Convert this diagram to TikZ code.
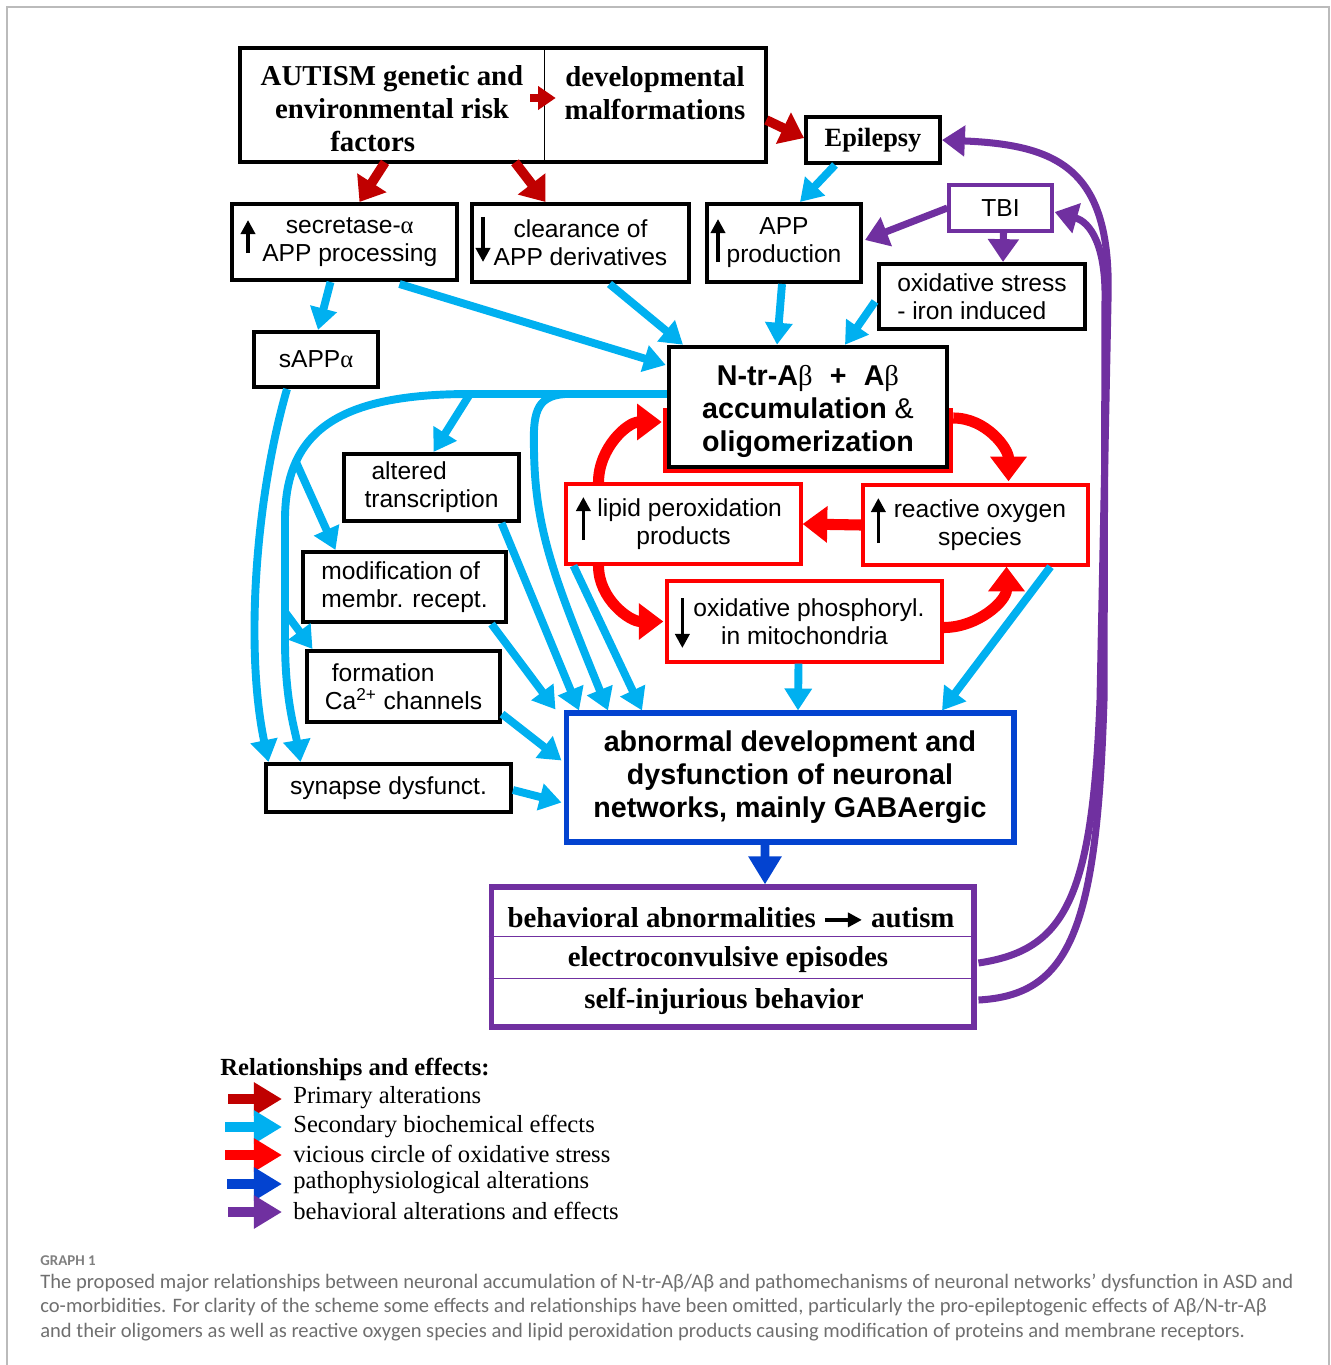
\documentclass[tikz,border=0pt]{standalone}
\usepackage{fontspec}
\setmainfont{Liberation Serif}
\setsansfont{Liberation Sans}
\newfontfamily\capfont{Carlito}
\usetikzlibrary{arrows.meta}

\definecolor{darkred}{HTML}{C00000}
\definecolor{skyarr}{HTML}{00B0F0}
\definecolor{vicred}{HTML}{FF0000}
\definecolor{patblue}{HTML}{0343D0}
\definecolor{behpurp}{HTML}{7030A0}
\definecolor{framegray}{HTML}{BBBBBB}
\definecolor{capgray}{HTML}{6F6F6F}

\newcommand\serifbold{\rmfamily\bfseries\fontsize{16.4}{18.8}\selectfont}
\newcommand\sansbold{\sffamily\bfseries\fontsize{16.3}{18.8}\selectfont}
\newcommand\boxfont{\sffamily\fontsize{14}{16}\selectfont}
\newcommand\ind[1]{\hspace*{#1pt}}

\tikzset{
  box/.style={draw=black, line width=2.3pt, fill=white, font=\boxfont, align=center, inner sep=1pt},
  redbox/.style={box, draw=vicred, line width=1.9pt},
  cell/.style={font=\serifbold, align=center, minimum width=6.08cm, minimum height=2.28cm, inner sep=0pt},
  updn/.style={black, line width=2.1pt, -{Triangle[width=8pt,length=8pt]}},
  primarr/.style={darkred, line width=5.5pt, -{Triangle[width=19pt,length=13pt]}},
  secarr/.style={skyarr, line width=4.5pt, -{Triangle[width=15pt,length=12.5pt]}},
  vicarr/.style={vicred, line width=6.3pt, -{Triangle[width=20pt,length=14pt]}},
  patharr/.style={patblue, line width=5pt, -{Triangle[width=18pt,length=16pt]}},
  beharr/.style={behpurp, line width=4pt, -{Triangle[width=17pt,length=13pt]}},
  legarr/.style={line width=5.7pt, -{Triangle[width=18pt,length=16pt]}},
  legtxt/.style={anchor=west, inner sep=0pt, font=\rmfamily\fontsize{14}{16}\selectfont}
}

\begin{document}
\begin{tikzpicture}[x=0.02cm, y=-0.02cm]
\useasboundingbox (0,0) rectangle (1331,1365);
\draw[framegray, line width=0.8pt] (7,1365) -- (7,7) -- (1329,7) -- (1329,1365);

% top row
\node[cell] (autism) at (392,105) {\rule{0pt}{16pt}AUTISM genetic and\\environmental risk\\factors\hspace*{22pt}};
\node[cell, minimum width=4.44cm] (devel) at (655,105) {\rule{0pt}{16pt}developmental\\malformations\\\mbox{}};
\draw[line width=2.3pt] (autism.north west) rectangle (devel.south east);
\draw[line width=0.8pt] (autism.north east) -- (autism.south east);
\node[box, font=\rmfamily\bfseries\fontsize{15}{17}\selectfont, minimum width=2.68cm, minimum height=0.92cm] (epi) at (873,140) {Epilepsy};

\node[box, minimum width=4.5cm, minimum height=1.52cm] (secr) at (344.5,242) {\ind{6}secretase-{\rmfamily α}\\\ind{6}APP processing};
\node[box, minimum width=4.34cm, minimum height=1.56cm] (clear) at (580.5,243) {clearance of\\APP derivatives};
\node[box, minimum width=3.08cm, minimum height=1.56cm] (appprod) at (784,243) {APP\\production};
\node[box, draw=behpurp, line width=1.9pt, minimum width=2.06cm, minimum height=0.92cm] (tbi) at (1000.5,208) {TBI};
\node[box, align=left, minimum width=4.12cm, minimum height=1.3cm] (oxiron) at (982,296.5) {oxidative stress\\- iron induced};
\node[box, minimum width=2.48cm, minimum height=1.1cm] (sappa) at (316,359.5) {sAPP{\rmfamily α}};

% central box with the red frame behind it
\draw[vicred, line width=1.9pt] (665,410) rectangle (951,471);
\node[box, line width=2.6pt, font=\sansbold, minimum width=5.56cm, minimum height=2.4cm] (ntr) at (808,407)
  {\rule{0pt}{17pt}N-tr-A{\rmfamily\mdseries β}\hspace{0.6em}+\hspace{0.6em}A{\rmfamily\mdseries β}\\accumulation {\mdseries\&}\\oligomerization};

\node[box, align=left, minimum width=3.5cm, minimum height=1.34cm] (altered) at (431.5,487.5) {\ind{4}altered\\transcription};
\node[redbox, minimum width=4.7cm, minimum height=1.6cm] (lipid) at (683.5,524) {\ind{7}lipid peroxidation\\products};
\node[redbox, minimum width=4.5cm, minimum height=1.6cm] (ros) at (975.5,525) {\ind{5}reactive oxygen\\\ind{5}species};
\node[box, align=left, minimum width=4.06cm, minimum height=1.4cm] (modif) at (404.5,587) {modification of\\membr. recept.};
\node[redbox, minimum width=5.5cm, minimum height=1.62cm] (oxph) at (804.5,621.5) {\ind{5}oxidative phosphoryl.\\in mitochondria};
\node[box, align=left, minimum width=3.86cm, minimum height=1.42cm] (formca) at (403.5,686.5) {\ind{4}formation\\Ca\textsuperscript{2+} channels};
\node[box, minimum width=4.9cm, minimum height=0.96cm] (synapse) at (388.5,788) {synapse dysfunct.};
\node[box, draw=patblue, line width=2.9pt, font=\sansbold, minimum width=8.96cm, minimum height=2.58cm] (abnormal) at (790,777.5)
  {abnormal development and\\dysfunction of neuronal\\networks, mainly GABAergic};

% behavioral box
\node[draw=behpurp, line width=2.9pt, minimum width=9.66cm, minimum height=2.8cm] (behav) at (732.5,957) {};
\draw[behpurp, line width=0.8pt] ([shift={(0,52)}]behav.north west) -- ([shift={(0,52)}]behav.north east);
\draw[behpurp, line width=0.8pt] ([shift={(0,94)}]behav.north west) -- ([shift={(0,94)}]behav.north east);
\node[font=\serifbold, inner sep=0pt] (rowaut) at (731,918) {behavioral abnormalities~\tikz[baseline=-0.6ex]\draw[line width=2.4pt,-{Triangle[width=8pt,length=8pt]}] (0pt,0pt) -- (21pt,0pt);~autism};
\node[font=\serifbold, inner sep=0pt] (rowconv) at (728,960) {electroconvulsive episodes};
\node[font=\serifbold, inner sep=0pt] (rowself) at (724,1001) {self-injurious behavior};

% up and down marks
\draw[updn] ([shift={(18,11)}]secr.west) -- ([shift={(18,-22)}]secr.west);
\draw[updn] ([shift={(13,-26)}]clear.west) -- ([shift={(13,19)}]clear.west);
\draw[updn] ([shift={(13,19)}]appprod.west) -- ([shift={(13,-24)}]appprod.west);
\draw[updn] ([shift={(19,16)}]lipid.west) -- ([shift={(19,-27)}]lipid.west);
\draw[updn] ([shift={(17,18)}]ros.west) -- ([shift={(17,-27)}]ros.west);
\draw[updn] ([shift={(17,-23.5)}]oxph.west) -- ([shift={(17,26.5)}]oxph.west);

% primary alterations
\draw[primarr, line width=4.5pt, -{Triangle[width=13pt,length=10pt]}] ([shift={(-14,-7)}]autism.east) -- ([shift={(12,-7)}]devel.west);
\draw[primarr] ([shift={(0,15)}]devel.east) -- ([shift={(0,-2)}]epi.west);
\draw[primarr] ([shift={(-7,0)}]autism.south) -- ([shift={(15,0)}]secr.north);
\draw[primarr] ([shift={(123,0)}]autism.south) -- ([shift={(-35,0)}]clear.north);

% secondary effects
\draw[secarr] ([shift={(-38,0)}]epi.south) -- ([shift={(16,0)}]appprod.north);
\draw[secarr] ([shift={(-14,0)}]secr.south) -- ([shift={(2,0)}]sappa.north);
\draw[secarr] ([shift={(55,2)}]secr.south) -- ([shift={(-1,-42)}]ntr.west);
\draw[secarr] ([shift={(29,0)}]clear.south) -- ([shift={(-125,0)}]ntr.north);
\draw[secarr] ([shift={(-2,0)}]appprod.south) -- ([shift={(-31,0)}]ntr.north);
\draw[secarr] ([shift={(-2,5)}]oxiron.west) -- ([shift={(37,0)}]ntr.north);
\draw[secarr] ([shift={(-29,0)}]sappa.south) .. controls (255,500) and (245,650) .. ([shift={(-120,0)}]synapse.north);

\coordinate (brA) at (470,394);
\coordinate (brB) at (296,462);
\coordinate (brC) at (285,612);
\coordinate (brD) at (565,394);
\draw[secarr] ([shift={(0,-13)}]ntr.west) -- (brA) .. controls (340,394) and (285,430) .. (285,520) -- (285,640)
  .. controls (285,700) and (295,730) .. ([shift={(-88,0)}]synapse.north);
\draw[secarr] (brA) -- ([shift={(2,0)}]altered.north);
\draw[secarr] (brB) -- ([shift={(-69,0)}]modif.north);
\draw[secarr] (brC) -- ([shift={(-91,0)}]formca.north);
\draw[secarr] (brD) .. controls (535,396) and (533,415) .. (534,450) .. controls (535,530) and (555,580) .. ([shift={(-182,0)}]abnormal.north);

\draw[secarr] ([shift={(-110,0)}]lipid.south) -- ([shift={(-148,0)}]abnormal.north);
\draw[secarr] ([shift={(70,0)}]altered.south) -- ([shift={(-211,0)}]abnormal.north);
\draw[secarr] ([shift={(87,0)}]modif.south) -- ([shift={(-8,-1)}]abnormal.north west);
\draw[secarr] ([shift={(0,-10)}]formca.south east) -- ([shift={(-2,-17)}]abnormal.west);
\draw[secarr] ([shift={(0,2)}]synapse.east) -- ([shift={(-2,25)}]abnormal.west);
\draw[secarr] ([shift={(-6,0)}]oxph.south) -- ([shift={(8,0)}]abnormal.north);
\draw[secarr] ([shift={(75,0)}]ros.south) -- ([shift={(152,0)}]abnormal.north);

% vicious circle
\draw[vicarr] ([shift={(-85,0)}]lipid.north) to[out=90, in=180] ([shift={(-5,15)}]ntr.west);
\draw[vicarr] ([shift={(4,11)}]ntr.east) to[out=0, in=90] ([shift={(33,-2)}]ros.north);
\draw[vicarr] (ros.west) -- (lipid.east);
\draw[vicarr] ([shift={(-85,0)}]lipid.south) to[out=-90, in=180] ([shift={(-2,0)}]oxph.west);
\draw[vicarr] ([shift={(0,6)}]oxph.east) to[out=0, in=-90] ([shift={(31,0)}]ros.south);

% pathophysiology and behaviour
\draw[patharr] ([shift={(-25,0)}]abnormal.south) -- ([shift={(32.5,0)}]behav.north);
\draw[beharr] (tbi.west) -- ([shift={(2,-3)}]appprod.east);
\draw[beharr] ([shift={(3,0)}]tbi.south) -- ([shift={(21,0)}]oxiron.north);
\draw[beharr] ([shift={(2,6)}]behav.east) .. controls (1065,950) and (1092,900) .. (1100,700) -- (1108,300)
  .. controls (1112,170) and (1060,145) .. (epi.east);
\draw[beharr] ([shift={(2,43)}]behav.east) .. controls (1070,995) and (1097,930) .. (1104,700) -- (1105,300)
  .. controls (1106,245) and (1090,222) .. ([shift={(1,4)}]tbi.east);

% legend
\node[legtxt, font=\rmfamily\bfseries\fontsize{14}{16}\selectfont] (legtitle) at (220,1069) {Relationships and effects:};
\node[legtxt] (leg1) at (293,1098) {Primary alterations};
\node[legtxt] (leg2) at (293,1126) {Secondary biochemical effects};
\node[legtxt] (leg3) at (293,1154) {vicious circle of oxidative stress};
\node[legtxt] (leg4) at (293,1183) {pathophysiological alterations};
\node[legtxt] (leg5) at (293,1211) {behavioral alterations and effects};
\draw[legarr, darkred] ([shift={(-65,1)}]leg1.west) -- ([shift={(-11,1)}]leg1.west);
\draw[legarr, skyarr] ([shift={(-68,1)}]leg2.west) -- ([shift={(-11,1)}]leg2.west);
\draw[legarr, vicred] ([shift={(-68,1)}]leg3.west) -- ([shift={(-11,1)}]leg3.west);
\draw[legarr, patblue] ([shift={(-66,1)}]leg4.west) -- ([shift={(-11,1)}]leg4.west);
\draw[legarr, behpurp] ([shift={(-65,1)}]leg5.west) -- ([shift={(-11,1)}]leg5.west);

% caption
\node[anchor=west, inner sep=0pt, text=gray, font=\capfont\bfseries\fontsize{8.5}{10}\selectfont] (graph) at (40,1261) {GRAPH 1};
\node[anchor=north west, inner sep=0pt, align=left, text=capgray, font=\capfont\fontsize{11.7}{13.7}\selectfont] (capt) at (40,1274)
  {The proposed major relationships between neuronal accumulation of N-tr-Aβ/Aβ and pathomechanisms of neuronal networks’ dysfunction in ASD and\\
   co-morbidities. For clarity of the scheme some effects and relationships have been omitted, particularly the pro-epileptogenic effects of Aβ/N-tr-Aβ\\
   and their oligomers as well as reactive oxygen species and lipid peroxidation products causing modification of proteins and membrane receptors.};
\end{tikzpicture}
\end{document}
